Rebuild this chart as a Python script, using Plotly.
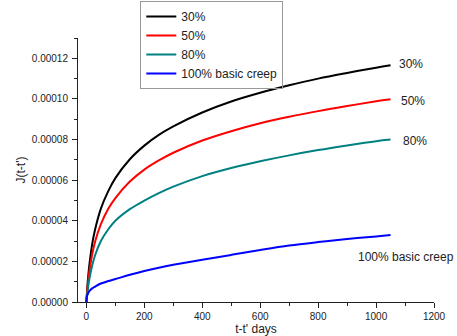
import plotly.graph_objects as go

# Time after loading (days)
t_days = [0, 2, 5, 10, 20, 30, 50, 75, 100, 150, 200, 250, 300, 400, 500, 600, 700, 800, 900, 1000, 1050]

# Compliance J(t-t') for each stress level
j_30 = [0, 0.48e-5, 1.07e-5, 1.8e-5, 2.85e-5, 3.57e-5, 4.6e-5, 5.45e-5, 6.1e-5, 7.03e-5, 7.7e-5,
        8.23e-5, 8.65e-5, 9.33e-5, 9.87e-5, 10.3e-5, 10.67e-5, 11.0e-5, 11.28e-5, 11.54e-5, 11.66e-5]
j_50 = [0, 0.39e-5, 0.87e-5, 1.48e-5, 2.35e-5, 2.97e-5, 3.83e-5, 4.58e-5, 5.12e-5, 5.93e-5, 6.52e-5,
        6.97e-5, 7.35e-5, 7.95e-5, 8.41e-5, 8.8e-5, 9.12e-5, 9.4e-5, 9.65e-5, 9.88e-5, 9.98e-5]
j_80 = [0, 0.3e-5, 0.65e-5, 1.12e-5, 1.8e-5, 2.3e-5, 3.0e-5, 3.57e-5, 4.0e-5, 4.57e-5, 4.99e-5,
        5.36e-5, 5.68e-5, 6.2e-5, 6.6e-5, 6.93e-5, 7.22e-5, 7.48e-5, 7.71e-5, 7.92e-5, 8.0e-5]
j_100 = [0, 0.28e-5, 0.4e-5, 0.53e-5, 0.67e-5, 0.76e-5, 0.91e-5, 1.03e-5, 1.13e-5, 1.34e-5, 1.53e-5,
         1.69e-5, 1.83e-5, 2.08e-5, 2.32e-5, 2.56e-5, 2.78e-5, 2.95e-5, 3.1e-5, 3.23e-5, 3.3e-5]

series_names = ["30%", "50%", "80%", "100% basic creep"]
series_values = [j_30, j_50, j_80, j_100]
series_colors = ["#000000", "#ff0000", "#008080", "#0000ff"]

# End labels (text, x, y in data units)
end_labels = ["30%", "50%", "80%", "100% basic creep"]
end_label_x = [1120, 1126, 1133, 1103]
end_label_y = [11.72e-5, 9.91e-5, 7.92e-5, 2.2e-5]

x_ticks = [0, 200, 400, 600, 800, 1000, 1200]
y_ticks = [0, 0.00002, 0.00004, 0.00006, 0.00008, 0.00010, 0.00012]

FONT = "Liberation Sans, Arial, sans-serif"
INK = "#222222"

fig = go.Figure()
for name, vals, col in zip(series_names, series_values, series_colors):
    fig.add_trace(go.Scatter(x=t_days, y=vals, name=name, mode="lines",
                             line=dict(color=col, width=2, shape="spline", smoothing=1.0)))

for txt, xx, yy in zip(end_labels, end_label_x, end_label_y):
    fig.add_annotation(x=xx, y=yy, text=txt, showarrow=False, xref="x", yref="y",
                       font=dict(family=FONT, size=12, color=INK))

axis_common = dict(showgrid=False, zeroline=False, showline=True, linecolor=INK,
                   linewidth=1, ticks="outside", ticklen=5, tickwidth=1, tickcolor=INK,
                   tickfont=dict(family=FONT, size=10, color=INK), mirror=False)

fig.update_xaxes(range=[-29, 1200], tickvals=x_ticks, ticktext=[str(v) for v in x_ticks],
                 minor=dict(ticks="outside", ticklen=3, tickvals=[100, 300, 500, 700, 900, 1100],
                            tickcolor=INK),
                 title=dict(text="t-t' days", font=dict(family=FONT, size=12, color=INK)),
                 automargin=False,
                 **axis_common)
fig.update_yaxes(range=[0, 0.00013], tickvals=y_ticks, tickformat=".5f",
                 minor=dict(ticks="outside", ticklen=3, dtick=0.00001, tickcolor=INK),
                 title=dict(text="J(t-t')", font=dict(family=FONT, size=12, color=INK),
                            standoff=3),
                 ticklabelstandoff=2, automargin=True,
                 **axis_common)

fig.update_layout(
    width=457, height=336,
    margin=dict(l=78, r=23, t=38, b=34, autoexpand=False),
    paper_bgcolor="white", plot_bgcolor="white",
    font=dict(family=FONT, size=12, color=INK),
    showlegend=True,
    legend=dict(x=0.175, y=1.14, xanchor="left", yanchor="top",
                bgcolor="rgba(255,255,255,0)", bordercolor="#999999", borderwidth=1,
                font=dict(family=FONT, size=12, color=INK),
                tracegroupgap=0, itemwidth=30),
)

fig.write_html("out.html", config={"displayModeBar": False},
               post_script="document.body.style.margin='0';document.body.style.padding='0';")
